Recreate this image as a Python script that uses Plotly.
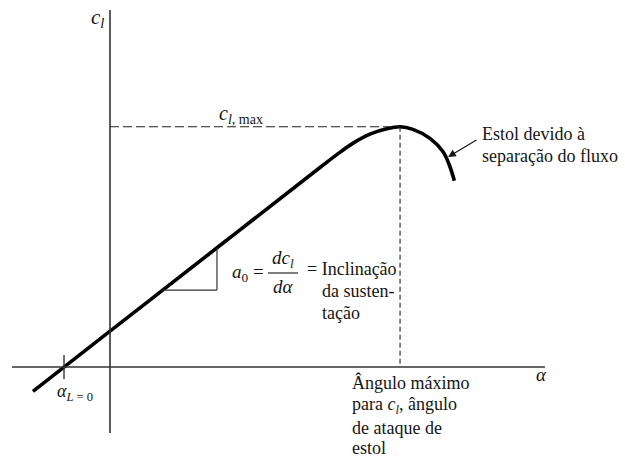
import numpy as np
import plotly.graph_objects as go

# Lift curve c_l(alpha): linear range, rounded peak, then drop after stall
alpha = [-3.35, 0.0, 5.0, 9.13, 9.86, 10.57, 11.30, 12.03, 12.61, 13.17, 13.91, 14.48, 14.78, 14.97]
cl = [-0.149, 0.22, 0.77, 1.224, 1.303, 1.374, 1.429, 1.462, 1.474, 1.458, 1.403, 1.321, 1.229, 1.143]

alpha_zero_lift = -2.0          # alpha_{L=0}
alpha_axis_span = [-4.26, 18.91]
cl_axis_span = [-0.405, 2.19]
slope_legs = [2.29, 4.65]       # alpha at the two corners of the slope triangle

W, H = 625, 457
x_range = [-4.783, 22.391]
y_range = [-0.552, 2.252]

i_max = int(np.argmax(cl))
alpha_stall, cl_max = alpha[i_max], cl[i_max]

SERIF = "Liberation Serif"
INK = "#151515"
AXIS = "#333333"


def px(x):
    return x / W


def py(y):
    return 1 - y / H


fig = go.Figure()

fig.add_trace(go.Scatter(
    x=alpha, y=cl, mode="lines",
    line=dict(color="#000000", width=3.6, shape="spline", smoothing=1.1),
    hoverinfo="skip", showlegend=False,
))

shapes = []
# coordinate axes
shapes.append(dict(type="line", xref="x", yref="y", x0=alpha_axis_span[0], x1=alpha_axis_span[1],
                   y0=0, y1=0, line=dict(color=AXIS, width=1.6)))
shapes.append(dict(type="line", xref="x", yref="y", x0=0, x1=0,
                   y0=cl_axis_span[0], y1=cl_axis_span[1], line=dict(color=AXIS, width=1.6)))
# tick at zero-lift angle
shapes.append(dict(type="line", xref="x", yref="y", x0=alpha_zero_lift, x1=alpha_zero_lift,
                   y0=-0.074, y1=0.074, line=dict(color=AXIS, width=1.4)))
# c_l,max and stall-angle guides
shapes.append(dict(type="line", xref="x", yref="y", x0=0, x1=alpha_stall, y0=cl_max, y1=cl_max,
                   line=dict(color="#222222", width=1.1, dash="9px,4px")))
shapes.append(dict(type="line", xref="x", yref="y", x0=alpha_stall, x1=alpha_stall, y0=cl_max, y1=0,
                   line=dict(color="#222222", width=1.1, dash="5px,3px")))
# slope triangle
c_lo = float(np.interp(slope_legs[0], alpha, cl))
c_hi = float(np.interp(slope_legs[1], alpha, cl))
shapes.append(dict(type="line", xref="x", yref="y", x0=slope_legs[0], x1=slope_legs[1], y0=c_lo, y1=c_lo,
                   line=dict(color=AXIS, width=1.2)))
shapes.append(dict(type="line", xref="x", yref="y", x0=slope_legs[1], x1=slope_legs[1], y0=c_lo, y1=c_hi,
                   line=dict(color=AXIS, width=1.2)))
# fraction bar of dc_l/dalpha
shapes.append(dict(type="line", xref="paper", yref="paper", x0=px(268), x1=px(298), y0=py(273), y1=py(273),
                   line=dict(color=INK, width=1.1)))

ann = []


def text(x, y, s, size=17, anchor="left"):
    ann.append(dict(x=px(x), y=py(y), xref="paper", yref="paper", text=s, showarrow=False,
                    xanchor=anchor, yanchor="middle", font=dict(family=SERIF, size=size, color=INK)))


text(97, 18, "<i>c<sub>l</sub></i>", size=21, anchor="center")
text(241, 114, "<i>c<sub>l</sub></i><sub>, max</sub>", size=20, anchor="center")
text(480, 134, "Estol devido à", size=18)
text(480, 156, "separação do fluxo", size=18)
text(266, 273, "<i>a</i><sub>0</sub> =", size=19, anchor="right")
text(283, 259, "<i>dc<sub>l</sub></i>", size=19, anchor="center")
text(283, 286, "<i>dα</i>", size=19, anchor="center")
text(305, 269, "= Inclinação", size=18)
text(320, 291, "da susten-", size=18)
text(320, 313, "tação", size=18)
text(75, 392, "<i>α<sub>L</sub></i><sub> = 0</sub>", size=18, anchor="center")
text(541, 374, "<i>α</i>", size=19, anchor="center")
text(350, 382, "Ângulo máximo", size=18)
text(350, 405, "para <i>c<sub>l</sub></i>, ângulo", size=18)
text(350, 428, "de ataque de", size=18)
text(350, 448, "estol", size=18)

# pointer from the stall note to the falling branch
ann.append(dict(x=px(448), y=py(157), xref="paper", yref="paper", text="", showarrow=True,
                ax=30, ay=-18, arrowhead=2, arrowsize=1.3, arrowwidth=1.2, arrowcolor=INK))

fig.update_layout(
    width=W, height=H,
    margin=dict(l=0, r=0, t=0, b=0),
    paper_bgcolor="white", plot_bgcolor="white",
    xaxis=dict(range=x_range, visible=False, fixedrange=True),
    yaxis=dict(range=y_range, visible=False, fixedrange=True),
    shapes=shapes, annotations=ann, showlegend=False,
)

fig.write_html("out.html")
